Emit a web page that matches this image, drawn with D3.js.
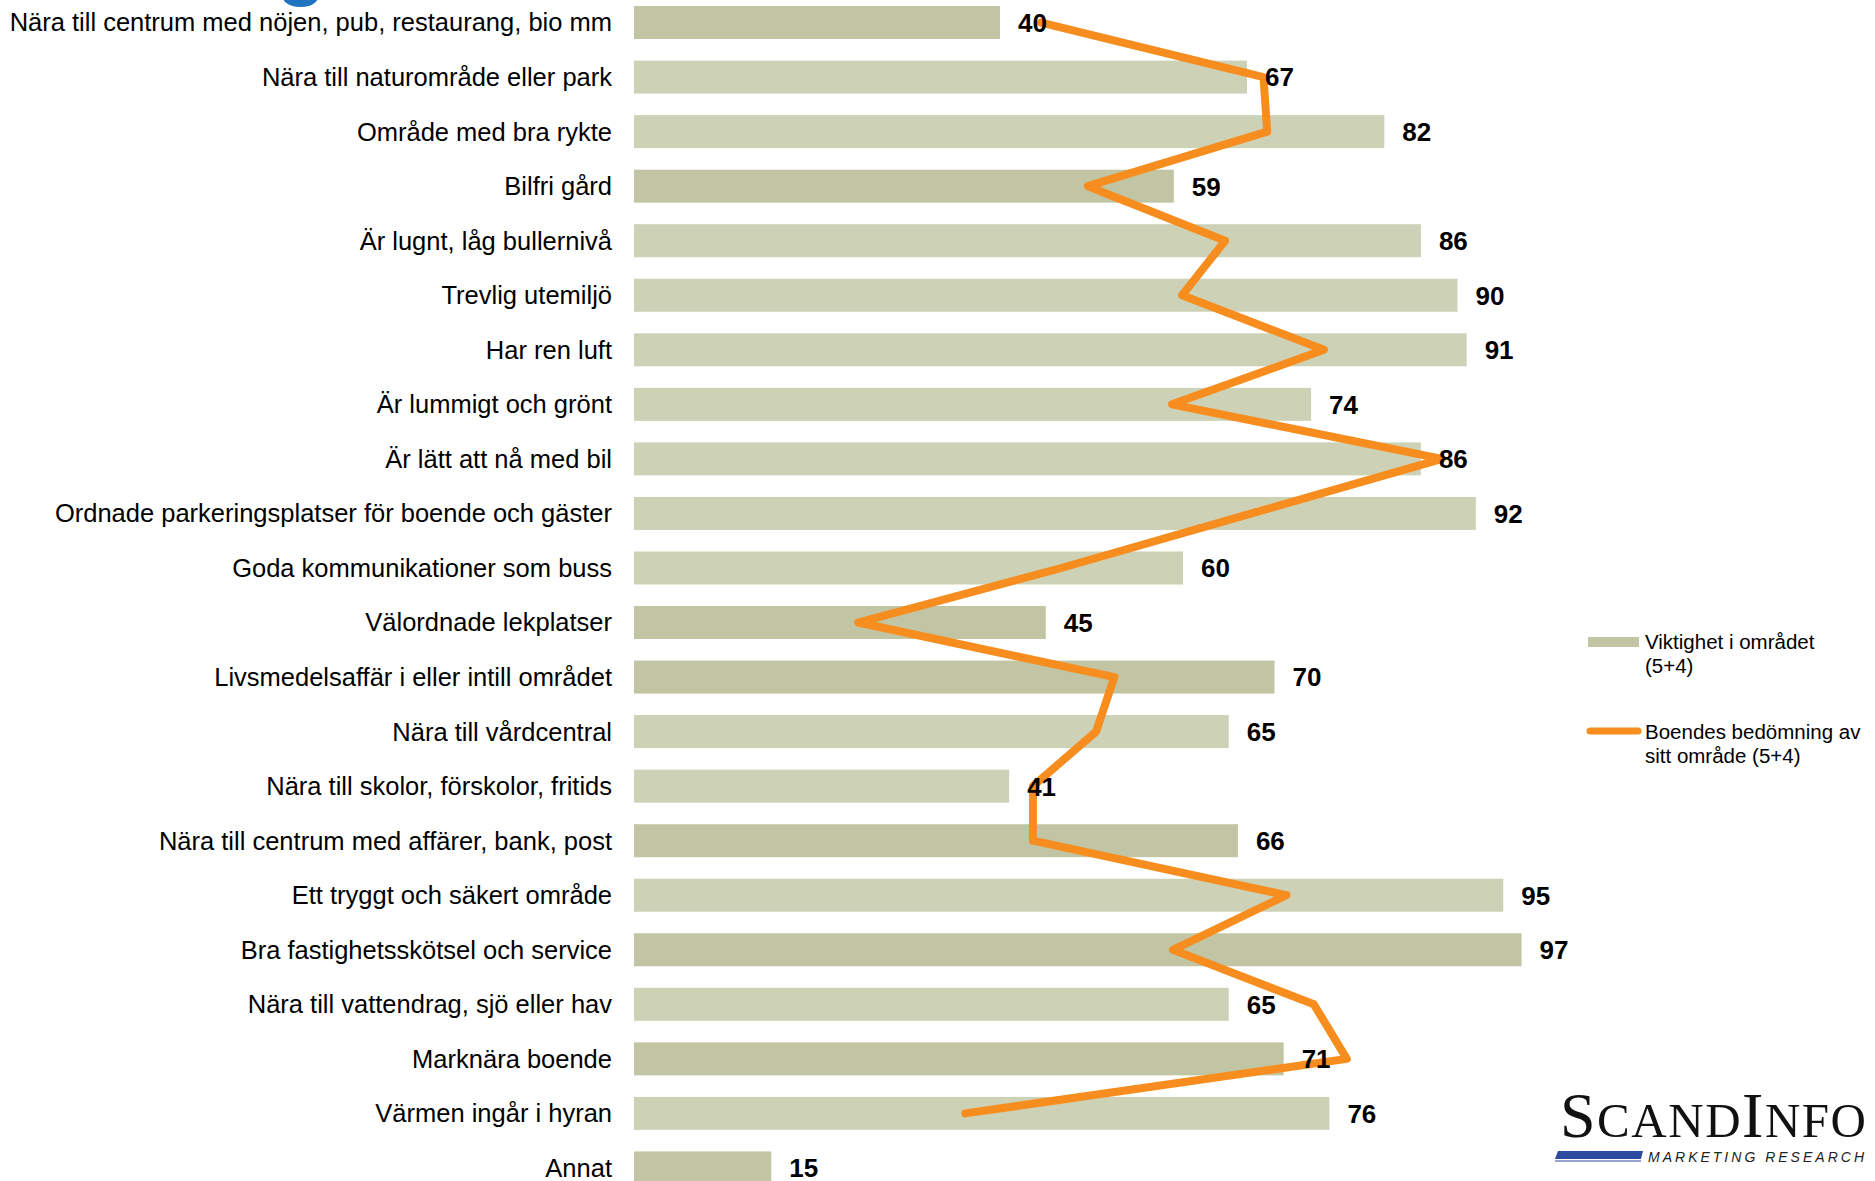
<!DOCTYPE html>
<html>
<head>
<meta charset="utf-8">
<script src="https://cdn.jsdelivr.net/npm/d3@7"></script>
<style>
  html, body { margin: 0; padding: 0; background: #ffffff; overflow: hidden; }
  svg { display: block; }
</style>
</head>
<body>
<svg id="chart" width="1875" height="1181"></svg>
<script>
// ---- data ----
const categories = [
  "Nära till centrum med nöjen, pub, restaurang, bio mm",
  "Nära till naturområde eller park",
  "Område med bra rykte",
  "Bilfri gård",
  "Är lugnt, låg bullernivå",
  "Trevlig utemiljö",
  "Har ren luft",
  "Är lummigt och grönt",
  "Är lätt att nå med bil",
  "Ordnade parkeringsplatser för boende och gäster",
  "Goda kommunikationer som buss",
  "Välordnade lekplatser",
  "Livsmedelsaffär i eller intill området",
  "Nära till vårdcentral",
  "Nära till skolor, förskolor, fritids",
  "Nära till centrum med affärer, bank, post",
  "Ett tryggt och säkert område",
  "Bra fastighetsskötsel och service",
  "Nära till vattendrag, sjö eller hav",
  "Marknära boende",
  "Värmen ingår i hyran",
  "Annat"
];
const importance = [40, 67, 82, 59, 86, 90, 91, 74, 86, 92, 60, 45, 70, 65, 41, 66, 95, 97, 65, 71, 76, 15];
const rating = [44.5, 68.8, 69.2, 49.6, 64.6, 59.9, 75.4, 58.8, 88.3, 67.5, 46.7, 24.5, 52.5, 50.5, 43.6, 43.6, 71.3, 58.9, 74.3, 77.9, 36.2, null];
const seriesNames = ["Viktighet i området", "(5+4)"];
const seriesNames2 = ["Boendes bedömning av", "sitt område (5+4)"];

// ---- styling (not data) ----
const darkerRows = new Set([0, 3, 11, 12, 15, 17, 19, 21]);
const barLight = "#CDD1B5", barDark = "#C1C5A3", orange = "#F78D1E";

const svg = d3.select("#chart");

const x = d3.scaleLinear().domain([0, 100]).range([634, 1549]);
const y = d3.scaleBand().domain(categories).range([-15.5, 1206]).padding(0.395);

// cut-off blue title glyph at the very top
svg.append("text")
  .attr("x", 277).attr("y", -10)
  .attr("font-family", "Liberation Sans, Arial, sans-serif")
  .attr("font-weight", "bold").attr("font-size", 80)
  .attr("fill", "#1F74BF").text("g");

// bars
svg.append("g").selectAll("rect")
  .data(categories)
  .join("rect")
  .attr("x", x(0))
  .attr("y", d => y(d))
  .attr("width", (d, i) => x(importance[i]) - x(0))
  .attr("height", y.bandwidth())
  .attr("fill", (d, i) => darkerRows.has(i) ? barDark : barLight);

// category labels (left axis)
const yAxis = d3.axisLeft(y).tickSize(0).tickPadding(0);
const ag = svg.append("g").attr("transform", `translate(612,0)`).call(yAxis);
ag.select(".domain").remove();
ag.selectAll("text")
  .attr("font-family", "Liberation Sans, Arial, sans-serif")
  .attr("font-size", 25.5)
  .attr("fill", "#000")
  .attr("dy", "0.35em");

// orange line
const line = d3.line()
  .defined(d => d.v != null)
  .x(d => x(d.v))
  .y(d => y(d.c) + y.bandwidth() / 2);
svg.append("path")
  .datum(categories.map((c, i) => ({ c, v: rating[i] })))
  .attr("d", line)
  .attr("fill", "none")
  .attr("stroke", orange)
  .attr("stroke-width", 8)
  .attr("stroke-linejoin", "round")
  .attr("stroke-linecap", "round");

// value labels
svg.append("g").selectAll("text")
  .data(categories)
  .join("text")
  .attr("x", (d, i) => x(importance[i]) + 18)
  .attr("y", d => y(d) + y.bandwidth() / 2)
  .attr("dy", "0.36em")
  .attr("font-family", "Liberation Sans Narrow, Liberation Sans, Arial, sans-serif")
  .attr("font-weight", "bold")
  .attr("font-size", 26)
  .attr("fill", "#000")
  .text((d, i) => importance[i]);

// legend
const lg = svg.append("g").attr("font-family", "Liberation Sans, Arial, sans-serif").attr("font-size", 20.5).attr("fill", "#000");
lg.append("rect").attr("x", 1588).attr("y", 637).attr("width", 51).attr("height", 10).attr("fill", barDark);
lg.append("text").attr("x", 1645).attr("y", 649).text(seriesNames[0]);
lg.append("text").attr("x", 1645).attr("y", 673).text(seriesNames[1]);
lg.append("line").attr("x1", 1590).attr("x2", 1638).attr("y1", 731).attr("y2", 731)
  .attr("stroke", orange).attr("stroke-width", 7).attr("stroke-linecap", "round");
lg.append("text").attr("x", 1645).attr("y", 739).text(seriesNames2[0]);
lg.append("text").attr("x", 1645).attr("y", 763).text(seriesNames2[1]);

// logo
const logo = svg.append("g");
const lt = logo.append("text")
  .attr("x", 1560).attr("y", 1137)
  .attr("font-family", "Liberation Serif, Times New Roman, serif")
  .attr("fill", "#111")
  .attr("textLength", 306).attr("lengthAdjust", "spacing");
lt.append("tspan").attr("font-size", 64).text("S");
lt.append("tspan").attr("font-size", 49).text("CAND");
lt.append("tspan").attr("font-size", 64).text("I");
lt.append("tspan").attr("font-size", 49).text("NFO");
logo.append("polygon")
  .attr("points", "1558,1151 1643,1151 1641,1159 1555,1159")
  .attr("fill", "#2C4A9E");
logo.append("line").attr("x1", 1555).attr("x2", 1641).attr("y1", 1161).attr("y2", 1161)
  .attr("stroke", "#2C4A9E").attr("stroke-width", 1);
logo.append("text")
  .attr("x", 1648).attr("y", 1162)
  .attr("font-family", "Liberation Sans, Arial, sans-serif")
  .attr("font-style", "italic").attr("font-size", 14)
  .attr("fill", "#222")
  .attr("textLength", 216).attr("lengthAdjust", "spacing")
  .text("MARKETING RESEARCH");
</script>
</body>
</html>
